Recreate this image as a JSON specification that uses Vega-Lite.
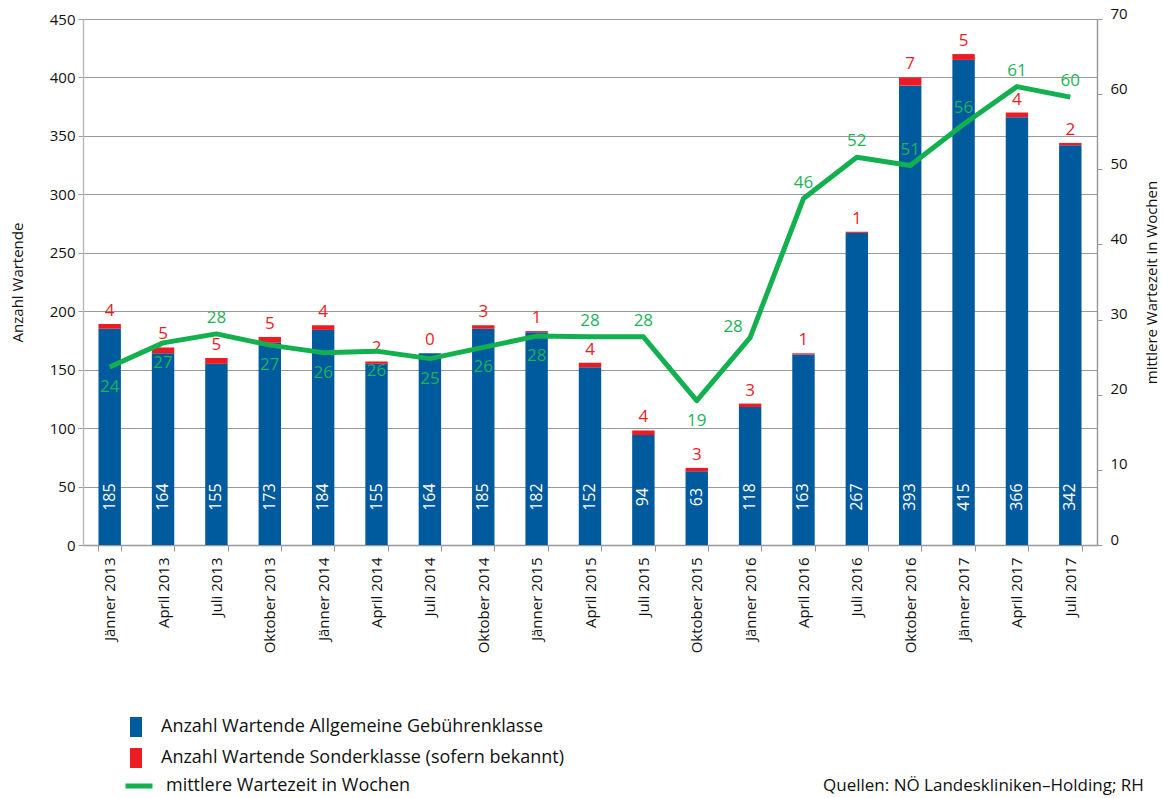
{
  "$schema": "https://vega.github.io/schema/vega-lite/v6.json",
  "width": 1014,
  "height": 526,
  "autosize": {"type": "none"},
  "padding": {"left": 83, "top": 19, "right": 66, "bottom": 253},
  "background": "white",
  "config": {
    "font": "Open Sans",
    "view": {"stroke": null},
    "legend": {"padding": 0, "labelLimit": 0}
  },
  "title": {
    "text": "Quellen: NÖ Landeskliniken–Holding; RH",
    "orient": "top",
    "anchor": "start",
    "frame": "group",
    "dx": 740,
    "dy": 806,
    "offset": 0,
    "baseline": "bottom",
    "fontSize": 17,
    "fontWeight": "normal",
    "color": "#111"
  },
  "data": {
    "values": [
      {"monat": "Jänner 2013", "allgemein": 185, "sonder": 4, "wochen": 23.7},
      {"monat": "April 2013", "allgemein": 164, "sonder": 5, "wochen": 26.9},
      {"monat": "Juli 2013", "allgemein": 155, "sonder": 5, "wochen": 28.1},
      {"monat": "Oktober 2013", "allgemein": 173, "sonder": 5, "wochen": 26.6},
      {"monat": "Jänner 2014", "allgemein": 184, "sonder": 4, "wochen": 25.6},
      {"monat": "April 2014", "allgemein": 155, "sonder": 2, "wochen": 25.8},
      {"monat": "Juli 2014", "allgemein": 164, "sonder": 0, "wochen": 24.8},
      {"monat": "Oktober 2014", "allgemein": 185, "sonder": 3, "wochen": 26.3},
      {"monat": "Jänner 2015", "allgemein": 182, "sonder": 1, "wochen": 27.8},
      {"monat": "April 2015", "allgemein": 152, "sonder": 4, "wochen": 27.7},
      {"monat": "Juli 2015", "allgemein": 94, "sonder": 4, "wochen": 27.7},
      {"monat": "Oktober 2015", "allgemein": 63, "sonder": 3, "wochen": 19.2},
      {"monat": "Jänner 2016", "allgemein": 118, "sonder": 3, "wochen": 27.6},
      {"monat": "April 2016", "allgemein": 163, "sonder": 1, "wochen": 46.1},
      {"monat": "Juli 2016", "allgemein": 267, "sonder": 1, "wochen": 51.6},
      {"monat": "Oktober 2016", "allgemein": 393, "sonder": 7, "wochen": 50.5},
      {"monat": "Jänner 2017", "allgemein": 415, "sonder": 5, "wochen": 56.0},
      {"monat": "April 2017", "allgemein": 366, "sonder": 4, "wochen": 61.0},
      {"monat": "Juli 2017", "allgemein": 342, "sonder": 2, "wochen": 59.6}
    ]
  },
  "layer": [
    {
      "layer": [
        {
          "transform": [{"fold": ["allgemein", "sonder"], "as": ["klasse", "anzahl"]}],
          "mark": {"type": "bar"},
          "encoding": {
            "x": {
              "field": "monat", "type": "nominal", "sort": null,
              "scale": {"paddingInner": 0.58, "paddingOuter": 0.29},
              "axis": {
                "title": null, "labelAngle": 270, "labelFontSize": 15, "labelColor": "#111",
                "labelPadding": 6, "tickBand": "extent", "tickSize": 6, "tickColor": "#999",
                "domainColor": "#999", "domainWidth": 1.5, "labelAlign": "right", "labelBaseline": "middle"
              }
            },
            "y": {
              "field": "anzahl", "type": "quantitative", "stack": "zero",
              "scale": {"domain": [0, 450], "nice": false},
              "axis": {
                "title": "Anzahl Wartende", "titleFontSize": 15, "titleFontWeight": "normal", "titleColor": "#111",
                "titlePadding": 24,
                "values": [0, 50, 100, 150, 200, 250, 300, 350, 400, 450],
                "grid": true, "gridColor": "#999", "gridWidth": 1,
                "domainColor": "#bbb", "domainWidth": 1.5, "tickColor": "#999", "tickSize": 5,
                "labelFontSize": 15, "labelColor": "#111", "labelPadding": 3
              }
            },
            "order": {"field": "klasse", "sort": "ascending"},
            "fill": {
              "field": "klasse", "type": "nominal",
              "scale": {"domain": ["allgemein", "sonder"], "range": ["#005a9e", "#ed1c24"]},
              "legend": {
                "orient": "none", "legendX": 43, "legendY": 698, "title": null,
                "symbolType": "M-0.6,-1H0.6V1H-0.6Z", "symbolSize": 400, "symbolStrokeWidth": 0,
                "labelFontSize": 18, "labelOffset": 15, "rowPadding": 11, "labelColor": "#111", "labelLimit": 0,
                "labelExpr": "datum.label == 'allgemein' ? 'Anzahl Wartende Allgemeine Gebührenklasse' : 'Anzahl Wartende Sonderklasse (sofern bekannt)'"
              }
            }
          }
        },
        {
          "mark": {"type": "text", "angle": 270, "align": "center", "baseline": "middle", "color": "white", "fontSize": 16},
          "encoding": {
            "x": {"field": "monat", "type": "nominal", "sort": null},
            "y": {"datum": 41},
            "text": {"field": "allgemein", "type": "quantitative"}
          }
        },
        {
          "transform": [{"fold": ["allgemein", "sonder"], "as": ["klasse", "anzahl"]}],
          "mark": {"type": "text", "dy": -13, "baseline": "middle", "align": "center", "color": "#ed1c24", "fontSize": 17},
          "encoding": {
            "x": {"field": "monat", "type": "nominal", "sort": null},
            "y": {"field": "anzahl", "type": "quantitative", "stack": "zero"},
            "order": {"field": "klasse", "sort": "ascending"},
            "detail": {"field": "klasse"},
            "text": {"field": "anzahl", "type": "quantitative"},
            "opacity": {"condition": {"test": "datum.klasse == 'sonder'", "value": 1}, "value": 0}
          }
        }
      ]
    },
    {
      "layer": [
        {
          "mark": {"type": "line", "strokeWidth": 5, "strokeJoin": "round"},
          "encoding": {
            "x": {"field": "monat", "type": "nominal", "sort": null},
            "y": {
              "field": "wochen", "type": "quantitative",
              "scale": {"domain": [0, 70], "nice": false},
              "axis": {
                "orient": "right", "title": "mittlere Wartezeit in Wochen", "titleAngle": 270,
                "titleFontSize": 15, "titleFontWeight": "normal", "titleColor": "#111", "titlePadding": 32,
                "values": [0, 10, 20, 30, 40, 50, 60, 70], "grid": false,
                "domainColor": "#999", "domainWidth": 1.5, "tickColor": "#999", "tickSize": 5,
                "labelFontSize": 15, "labelColor": "#111", "labelPadding": 8, "labelOffset": -6
              }
            },
            "stroke": {
              "datum": "mittlere Wartezeit in Wochen",
              "scale": {"range": ["#12b04e"]},
              "legend": {
                "orient": "none", "legendX": 40, "legendY": 751, "title": null,
                "symbolType": "stroke", "symbolSize": 729, "symbolStrokeWidth": 5,
                "labelFontSize": 18, "labelOffset": 11, "labelColor": "#111", "labelLimit": 0
              }
            }
          }
        },
        {
          "transform": [{"filter": {"field": "monat", "oneOf": ["Jänner 2013", "April 2013", "Oktober 2013", "Jänner 2014", "April 2014", "Juli 2014", "Oktober 2014", "Jänner 2015", "Oktober 2015"]}}],
          "mark": {"type": "text", "dy": 20, "baseline": "middle", "align": "center", "color": "#1db35a", "fontSize": 17},
          "encoding": {
            "x": {"field": "monat", "type": "nominal", "sort": null},
            "y": {"field": "wochen", "type": "quantitative"},
            "text": {"field": "wochen", "type": "quantitative", "format": ".0f"}
          }
        },
        {
          "transform": [{"filter": {"field": "monat", "oneOf": ["Juli 2013", "April 2015", "Juli 2015", "April 2016", "Juli 2016", "Oktober 2016", "Jänner 2017", "April 2017", "Juli 2017"]}}],
          "mark": {"type": "text", "dy": -16, "baseline": "middle", "align": "center", "color": "#1db35a", "fontSize": 17},
          "encoding": {
            "x": {"field": "monat", "type": "nominal", "sort": null},
            "y": {"field": "wochen", "type": "quantitative"},
            "text": {"field": "wochen", "type": "quantitative", "format": ".0f"}
          }
        },
        {
          "transform": [{"filter": {"field": "monat", "equal": "Jänner 2016"}}],
          "mark": {"type": "text", "dx": -17, "dy": -11, "baseline": "middle", "align": "center", "color": "#1db35a", "fontSize": 17},
          "encoding": {
            "x": {"field": "monat", "type": "nominal", "sort": null},
            "y": {"field": "wochen", "type": "quantitative"},
            "text": {"field": "wochen", "type": "quantitative", "format": ".0f"}
          }
        }
      ]
    }
  ],
  "resolve": {"scale": {"y": "independent"}, "axis": {"y": "independent"}}
}
